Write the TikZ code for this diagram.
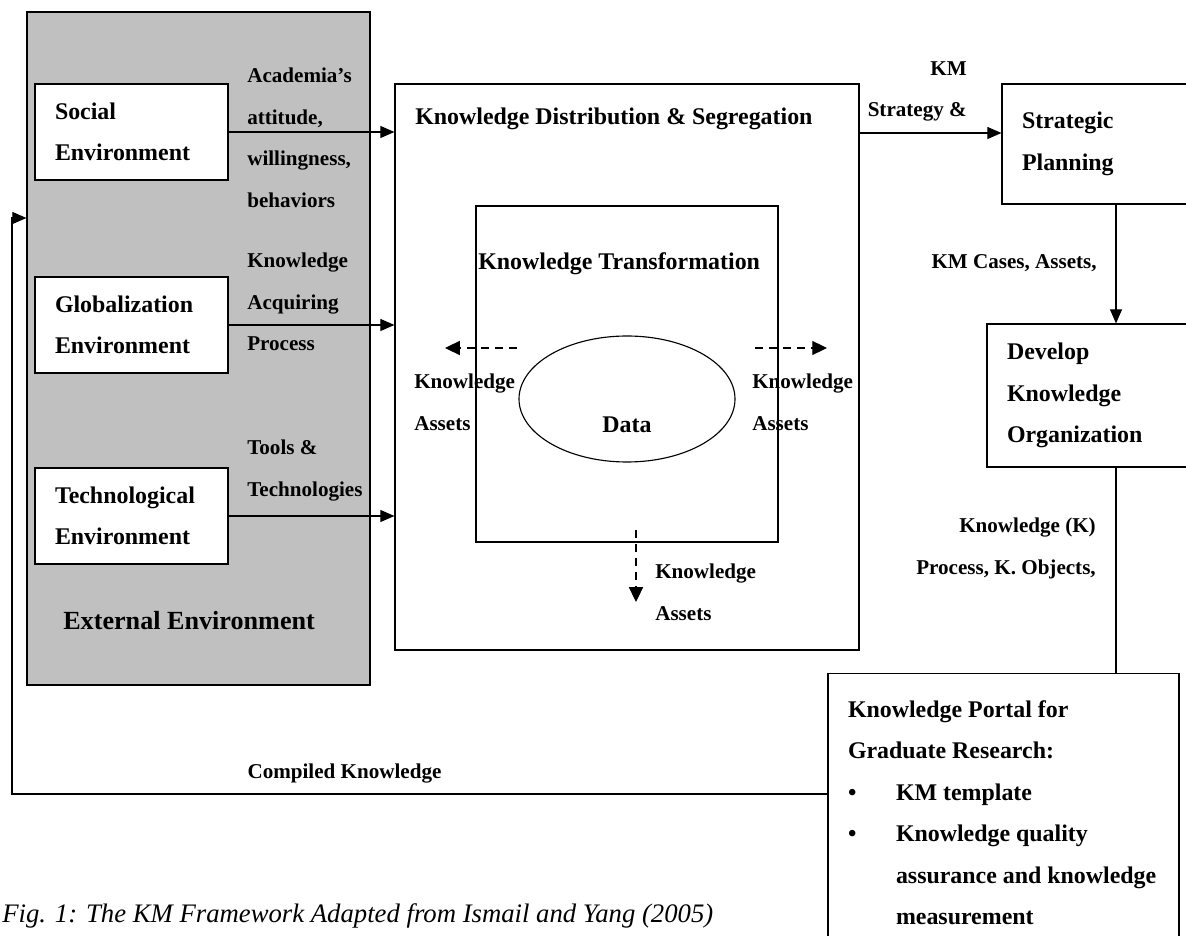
\documentclass[tikz,border=0pt]{standalone}
\usepackage{fontspec}
\setmainfont{Liberation Serif}
\usepackage{xcolor}
\usepackage{tikz}
\usetikzlibrary{arrows.meta, positioning, shapes.geometric}
\definecolor{kmgray}{HTML}{C0C0C0}
\newcommand{\boxfont}{\fontsize{17}{29.5}\selectfont\bfseries}
\newcommand{\lblfont}{\fontsize{15}{29.5}\selectfont\bfseries}
\tikzset{
  envbox/.style={draw, fill=white, line width=0.8pt, align=flush left,
    inner xsep=0.5cm, inner ysep=0pt, font=\boxfont},
  lbl/.style={inner sep=0pt, font=\lblfont},
  ttl/.style={inner sep=0pt, anchor=north west, font=\boxfont},
  flow/.style={-{Triangle[length=10pt, width=8.5pt]}, line width=0.8pt},
  kaflow/.style={-{Triangle[length=10.5pt, width=10pt]}, line width=0.8pt,
    dash pattern=on 5.5pt off 4.5pt},
}

\begin{document}
\begin{tikzpicture}[x=1cm, y=1cm]
  \clip (0,0) rectangle (29.65,23.375);

  %% External environment
  \node[draw, fill=kmgray, line width=0.8pt, minimum width=8.575cm,
    minimum height=16.825cm, inner sep=0pt] (ext) at (4.9625,14.6625) {};
  \node[inner sep=0pt, anchor=north west,
    font=\fontsize{18.6}{22}\selectfont\bfseries] (extlbl) at (1.575,8.1)
    {External Environment};

  \node[envbox, text width=3.825cm, minimum height=2.4cm] (social)
    at (3.2875,20.075) {Social\\Environment};
  \node[envbox, text width=3.825cm, minimum height=2.4cm] (glob)
    at (3.2875,15.25) {Globalization\\Environment};
  \node[envbox, text width=3.825cm, minimum height=2.4cm] (tech)
    at (3.2875,10.475) {Technological\\Environment};

  \node[lbl, anchor=north west, align=left] (attlbl) at (6.175,21.675)
    {Academia's\\attitude,\\willingness,\\behaviors};
  \node[lbl, anchor=north west, align=left] (acqlbl) at (6.175,17.05)
    {Knowledge\\Acquiring\\Process};
  \node[lbl, anchor=north west, align=left] (toollbl) at (6.175,12.375)
    {Tools \&\\Technologies};

  %% Knowledge distribution & transformation
  \node[draw, line width=0.8pt, minimum width=11.6cm, minimum height=14.15cm,
    inner sep=0pt] (kd) at (15.675,14.2) {};
  \node[ttl] (kdtitle) at (10.375,20.675) {Knowledge Distribution \& Segregation};

  \node[draw, line width=0.8pt, minimum width=7.55cm, minimum height=8.4cm,
    inner sep=0pt] (kt) at (15.675,14.025) {};
  \node[ttl] (kttitle) at (11.95,17.075) {Knowledge Transformation};

  \node[ellipse, draw, line width=0.8pt, minimum width=5.4cm,
    minimum height=3.15cm, inner sep=0pt] (data) at (15.675,13.4) {};
  \node[inner sep=0pt, anchor=north, font=\boxfont] (datalbl) at (15.675,12.95) {Data};

  \draw[flow] (social.east) -- (kd.west |- social.east);
  \draw[flow] (glob.east) -- (kd.west |- glob.east);
  \draw[flow] (tech.east) -- (kd.west |- tech.east);

  %% Knowledge assets
  \coordinate (kaLs) at (12.925,14.675);
  \coordinate (kaLe) at (11.125,14.675);
  \coordinate (kaRs) at (18.875,14.675);
  \coordinate (kaRe) at (20.675,14.675);
  \coordinate (kaDs) at (15.9,10.125);
  \coordinate (kaDe) at (15.9,8.325);
  \draw[kaflow] (kaLs) -- (kaLe);
  \draw[kaflow] (kaRs) -- (kaRe);
  \draw[kaflow] (kaDs) -- (kaDe);
  \node[lbl, anchor=north west, align=left] (kalLbl) at (10.35,14.025)
    {Knowledge\\Assets};
  \node[lbl, anchor=north west, align=left] (kalRbl) at (18.8,14.025)
    {Knowledge\\Assets};
  \node[lbl, anchor=north west, align=left] (kalDbl) at (16.375,9.275)
    {Knowledge\\Assets};

  %% Strategic planning & organization
  \node[envbox, text width=4.7cm, minimum height=3cm] (sp)
    at (27.9,19.775) {Strategic\\Planning};
  \node[lbl, anchor=north east, align=right] (stratlbl) at (24.175,21.85)
    {KM\\Strategy \&};
  \coordinate (sty) at (0,20.05);
  \draw[flow] (kd.east |- sty) -- (sp.west |- sty);

  \node[envbox, text width=5.45cm, minimum height=3.575cm] (dev)
    at (27.9,13.4875) {Develop\\Knowledge\\Organization};
  \draw[flow] (sp.south) -- (dev.north);
  \node[lbl, anchor=north east] (caselbl) at (27.425,17.025) {KM Cases, Assets,};

  %% Portal
  \node[envbox, anchor=north, text width=7.775cm, inner ysep=0.675cm] (portal)
    at (25.0875,6.55)
    {Knowledge Portal for\\Graduate Research:\\
     \mbox{\makebox[1.2cm][l]{\textbullet}KM template}\\
     \mbox{\makebox[1.2cm][l]{\textbullet}Knowledge quality}\\
     \mbox{\hspace*{1.2cm}assurance and knowledge}\\
     \mbox{\hspace*{1.2cm}measurement}};
  \draw[line width=0.8pt] (dev.south) -- (dev.south |- portal.north);
  \node[lbl, anchor=north east, align=right] (klbl) at (27.4,10.425)
    {Knowledge (K)\\Process, K. Objects,};

  %% Feedback
  \coordinate (fbcorner) at (0.3,3.525);
  \coordinate (fbtop) at (0.3,17.925);
  \draw[flow] (portal.west |- fbcorner) -- (fbcorner) -- (fbtop) -- (ext.west |- fbtop);
  \node[lbl, anchor=north] (complbl) at (8.6125,4.275) {Compiled Knowledge};

  \node[anchor=base west, inner sep=0pt, font=\fontsize{19}{23}\selectfont\itshape]
    (caption) at (0.05,0.325)
    {Fig. 1: The KM Framework Adapted from Ismail and Yang (2005)};

\end{tikzpicture}
\end{document}
